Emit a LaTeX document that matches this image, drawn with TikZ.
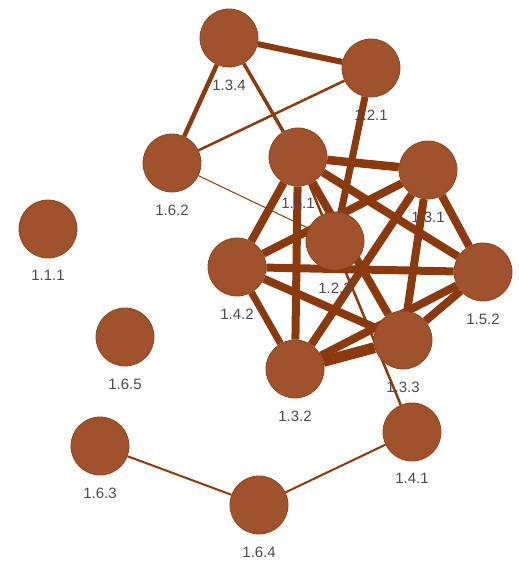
\documentclass[tikz,border=0pt]{standalone}
\usepackage{fontspec}
\setmainfont{Liberation Sans}
\usepackage{tikz}
\usetikzlibrary{backgrounds}

\definecolor{nodefill}{RGB}{160,82,45}
\definecolor{nodeline}{RGB}{145,68,28}
\definecolor{edgecol}{RGB}{139,58,16}
\definecolor{labelcol}{RGB}{72,74,84}

\tikzset{
  vertex/.style={circle, fill=nodefill, draw=nodeline, line width=0.8pt,
    minimum size=58pt, inner sep=0pt},
  lbl/.style={text=labelcol, inner sep=0pt, font=\fontsize{15}{17}\selectfont},
  link/.style={draw=edgecol, line width=#1},
  every label/.style={lbl},
  label distance=12pt
}

\begin{document}
\begin{tikzpicture}[x=1pt,y=-1pt]
\useasboundingbox (0,0) rectangle (519,566);
\node (n134) at (229,38) [vertex, label=below:1.3.4] {};
\node (n121) at (371,68) [vertex, label=below:1.2.1] {};
\node (n162) at (172,163) [vertex, label=below:1.6.2] {};
\node (n151) at (298,157) [vertex, label=below:1.5.1] {};
\node (n131) at (428,170) [vertex, label=below:1.3.1] {};
\node (n122) at (335,241) [vertex, label=below:1.2.2] {};
\node (n142) at (237,267) [vertex, label=below:1.4.2] {};
\node (n152) at (483,272) [vertex, label=below:1.5.2] {};
\node (n133) at (403,340) [vertex, label=below:1.3.3] {};
\node (n132) at (295,369) [vertex, label=below:1.3.2] {};
\node (n111) at (48,229) [vertex, label=below:1.1.1] {};
\node (n165) at (125,337) [vertex, label=below:1.6.5] {};
\node (n163) at (100,446) [vertex, label=below:1.6.3] {};
\node (n164) at (259,505) [vertex, label=below:1.6.4] {};
\node (n141) at (412,432) [vertex, label=below:1.4.1] {};

\begin{scope}[on background layer]
% upper triangle
\draw[link=6pt] (n134) -- (n121);
\draw[link=4.5pt] (n134) -- (n162);
\draw[link=3.5pt] (n134) -- (n151);
\draw[link=2.5pt] (n121) -- (n162);
\draw[link=7pt] (n121) -- (n122);
\draw[link=1pt] (n162) -- (n122);
% dense cluster
\draw[link=8.5pt] (n151) -- (n131);
\draw[link=8pt] (n151) -- (n142);
\draw[link=8pt] (n151) -- (n132);
\draw[link=8pt] (n151) -- (n152);
\draw[link=8pt] (n151) -- (n133);
\draw[link=2.5pt] (n151) -- (n141);
\draw[link=8pt] (n131) -- (n142);
\draw[link=8pt] (n131) -- (n132);
\draw[link=8pt] (n131) -- (n133);
\draw[link=8pt] (n131) -- (n152);
\draw[link=8pt] (n142) -- (n152);
\draw[link=8pt] (n142) -- (n133);
\draw[link=7pt] (n142) -- (n132);
\draw[link=11pt] (n132) -- (n133);
\draw[link=8pt] (n132) -- (n152);
\draw[link=8pt] (n133) -- (n152);
% bottom chain
\draw[link=2pt] (n163) -- (n164);
\draw[link=2pt] (n164) -- (n141);
\end{scope}
\end{tikzpicture}
\end{document}
